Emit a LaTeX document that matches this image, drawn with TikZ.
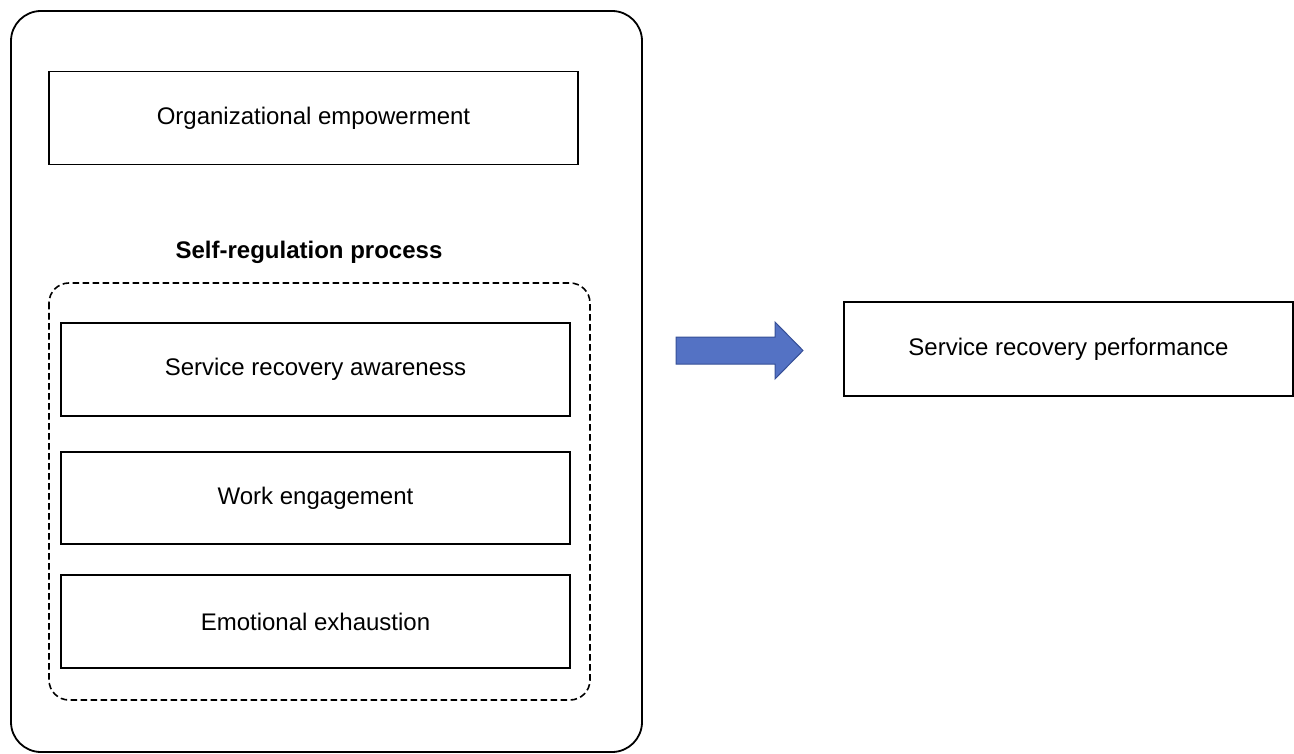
\documentclass[tikz,border=0pt]{standalone}
\usepackage{fontspec}
\setmainfont{Liberation Sans}
\begin{document}
\begin{tikzpicture}[x=1pt,y=-1pt,
    box/.style={draw,line width=1.8pt,minimum width=509pt,minimum height=93pt,inner sep=0pt,
      font=\fontsize{24}{28}\selectfont}]
      \useasboundingbox (0,0) rectangle (1294,754);
      \draw[line width=1.8pt,rounded corners=30pt] (11,11) rectangle (642,752);
      \node[box,minimum width=529pt] (org) at (313.5,118) {Organizational empowerment};
      \node[font=\fontsize{24}{28}\selectfont\bfseries] (selfreg) at (309,252) {Self-regulation process};
      \draw[line width=1.6pt,dash pattern=on 6.5pt off 3.5pt,rounded corners=20pt] (49,283) rectangle (590,700);
      \node[box] (aware) at (315.5,369.5) {Service recovery awareness};
      \node[box,minimum height=92pt] (engage) at (315.5,498) {Work engagement};
      \node[box] (exhaust) at (315.5,621.5) {Emotional exhaustion};
      \draw[line width=1pt,draw={rgb,255:red,54;green,79;blue,150},fill={rgb,255:red,84;green,114;blue,196}]
        (676,337) -- (775,337) -- (775,322) -- (803,350.5) -- (775,379) -- (775,364) -- (676,364) -- cycle;
      \node[box,minimum width=449pt,minimum height=94pt] (perf) at (1068.5,349) {Service recovery performance};
    \end{tikzpicture}
\end{document}
